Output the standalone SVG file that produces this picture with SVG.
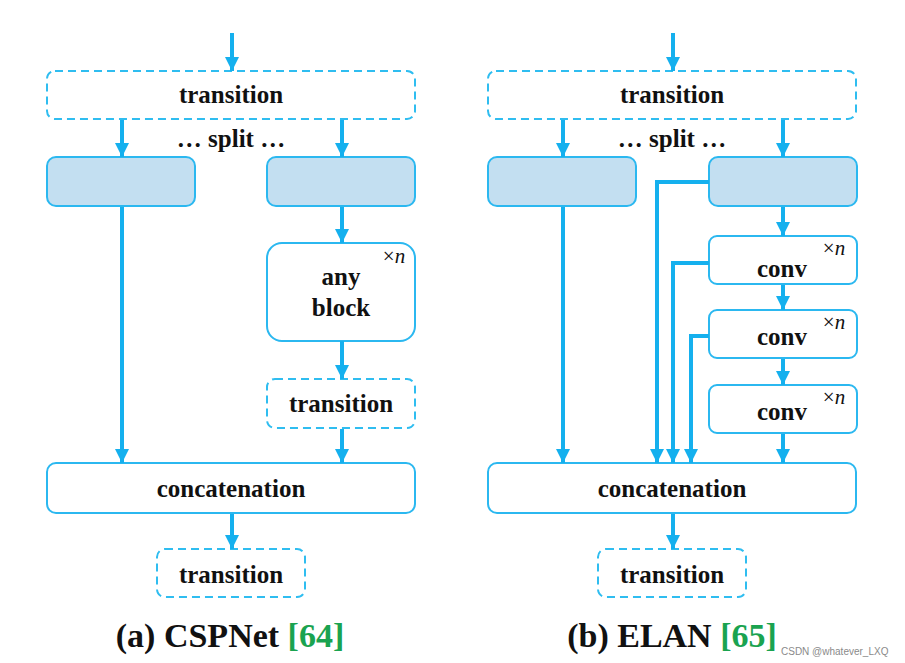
<svg xmlns="http://www.w3.org/2000/svg" width="905" height="663" viewBox="0 0 905 663">
<defs>
<marker id="arr" markerUnits="userSpaceOnUse" markerWidth="16" markerHeight="16" viewBox="0 0 16 16" refX="15" refY="8" orient="auto">
<path d="M1,1 L15,8 L1,15 Z" fill="#15b0ee"/>
</marker>
</defs>
<style>
.solid{fill:#fff;stroke:#2bb8f0;stroke-width:2}
.blue{fill:#c3dff1;stroke:#2bb8f0;stroke-width:2}
.dash{fill:#fff;stroke:#2fbdf0;stroke-width:2;stroke-dasharray:8 5}
.t{font-family:"Liberation Serif","Times New Roman",serif;font-weight:bold;font-size:25px;fill:#111;text-anchor:middle}
.xn{font-family:"Liberation Serif","Times New Roman",serif;font-size:21px;fill:#111;text-anchor:middle}
.cap{font-family:"Liberation Serif","Times New Roman",serif;font-weight:bold;font-size:34px;fill:#111;text-anchor:middle}
.g{fill:#1aa350}
.c line,.c polyline{stroke:#15b0ee;stroke-width:4;fill:none;marker-end:url(#arr)}
</style>
<rect width="905" height="663" fill="#fff"/>

<!-- (a) CSPNet -->
<g id="a_trans_top"><rect class="dash" x="47" y="71" width="368" height="48" rx="8"/><text class="t" x="231" y="103">transition</text></g>
<text class="t" x="231" y="147">… split …</text>
<g id="a_part1"><rect class="blue" x="47" y="157" width="148" height="49" rx="9"/></g>
<g id="a_part2"><rect class="blue" x="267" y="157" width="148" height="49" rx="9"/></g>
<g id="a_block"><rect class="solid" x="267" y="243" width="148" height="98" rx="15"/><text class="t" x="341" y="285">any</text><text class="t" x="341" y="316">block</text><text class="xn" x="394" y="263">×<tspan font-style="italic">n</tspan></text></g>
<g id="a_trans_mid"><rect class="dash" x="267" y="379" width="148" height="49" rx="8"/><text class="t" x="341" y="412">transition</text></g>
<g id="a_concat"><rect class="solid" x="47" y="463" width="368" height="50" rx="9"/><text class="t" x="231" y="497">concatenation</text></g>
<g id="a_trans_bot"><rect class="dash" x="157" y="549" width="148" height="48" rx="8"/><text class="t" x="231" y="583">transition</text></g>

<!-- (b) ELAN -->
<g id="b_trans_top"><rect class="dash" x="488" y="71" width="368" height="48" rx="8"/><text class="t" x="672" y="103">transition</text></g>
<text class="t" x="672" y="147">… split …</text>
<g id="b_part1"><rect class="blue" x="488" y="157" width="148" height="49" rx="9"/></g>
<g id="b_part2"><rect class="blue" x="709" y="157" width="148" height="49" rx="9"/></g>
<g id="b_conv1"><rect class="solid" x="709" y="236" width="148" height="48" rx="8"/><text class="t" x="782" y="277">conv</text><text class="xn" x="834" y="255">×<tspan font-style="italic">n</tspan></text></g>
<g id="b_conv2"><rect class="solid" x="709" y="310" width="148" height="48" rx="8"/><text class="t" x="782" y="345">conv</text><text class="xn" x="834" y="329">×<tspan font-style="italic">n</tspan></text></g>
<g id="b_conv3"><rect class="solid" x="709" y="385" width="148" height="48" rx="8"/><text class="t" x="782" y="420">conv</text><text class="xn" x="834" y="404">×<tspan font-style="italic">n</tspan></text></g>
<g id="b_concat"><rect class="solid" x="488" y="463" width="368" height="50" rx="9"/><text class="t" x="672" y="497">concatenation</text></g>
<g id="b_trans_bot"><rect class="dash" x="598" y="549" width="148" height="48" rx="8"/><text class="t" x="672" y="583">transition</text></g>

<g id="connectors" class="c">
<line x1="232" y1="33" x2="232" y2="71"/>
<line x1="122" y1="120" x2="122" y2="157"/>
<line x1="342" y1="120" x2="342" y2="157"/>
<line x1="122" y1="207" x2="122" y2="463"/>
<line x1="342" y1="207" x2="342" y2="243"/>
<line x1="342" y1="341" x2="342" y2="379"/>
<line x1="342" y1="429" x2="342" y2="463"/>
<line x1="232" y1="514" x2="232" y2="549"/>

<line x1="673" y1="33" x2="673" y2="71"/>
<line x1="563" y1="120" x2="563" y2="157"/>
<line x1="783" y1="120" x2="783" y2="157"/>
<line x1="563" y1="207" x2="563" y2="463"/>
<polyline points="709,182 657,182 657,463"/>
<line x1="783" y1="207" x2="783" y2="236"/>
<polyline points="709,263 673,263 673,463"/>
<line x1="783" y1="285" x2="783" y2="310"/>
<polyline points="709,336 691,336 691,463"/>
<line x1="783" y1="359" x2="783" y2="385"/>
<line x1="783" y1="434" x2="783" y2="463"/>
<line x1="673" y1="514" x2="673" y2="549"/>
</g>

<text class="cap" x="230" y="647">(a) CSPNet <tspan class="g">[64]</tspan></text>
<text class="cap" x="672" y="647">(b) ELAN <tspan class="g">[65]</tspan></text>
<text x="781" y="655" font-family="'Liberation Sans',Arial,sans-serif" font-size="10" fill="#8a8a8a">CSDN @whatever_LXQ</text>
</svg>
